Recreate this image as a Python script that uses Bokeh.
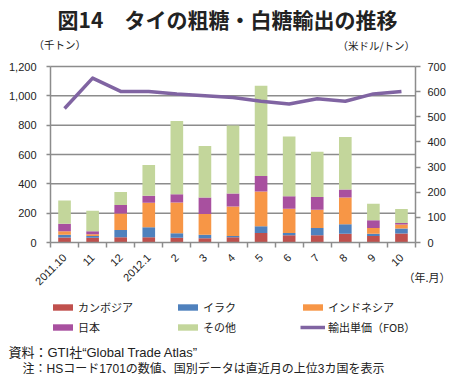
import math
from bokeh.plotting import figure
from bokeh.models import (Range1d, LinearAxis, FixedTicker, Label, Legend, LegendItem,
                          ColumnDataSource, NumeralTickFormatter)
from bokeh.embed import file_html
from bokeh.resources import INLINE

# ---- data ----
months = ["2011.10", "11", "12", "2012.1", "2", "3", "4", "5", "6", "7", "8", "9", "10"]
cambodia = [34, 32, 36, 36, 32, 29, 36, 65, 50, 50, 59, 45, 61]
iraq = [18, 13, 50, 68, 31, 23, 9, 45, 15, 49, 65, 14, 34]
indonesia = [25, 11, 112, 167, 210, 142, 201, 237, 165, 124, 183, 40, 27]
japan = [51, 21, 57, 47, 56, 113, 88, 106, 86, 88, 54, 52, 11]
other = [158, 139, 90, 210, 499, 351, 464, 616, 406, 307, 358, 113, 95]
fob_price = [533, 654, 601, 601, 591, 584, 577, 562, 551, 572, 562, 591, 601]
left_ticks = [0, 200, 400, 600, 800, 1000, 1200]
right_ticks = [0, 100, 200, 300, 400, 500, 600, 700]
series_names = ["カンボジア", "イラク", "インドネシア", "日本", "その他"]
line_name = "輸出単価（FOB）"

# ---- layout (pixels) ----
W, H = 453, 382
PL, PR, PT, PB = 50, 415, 66, 242   # plot area edges
JP = "Noto Sans CJK JP"
MIX = "Liberation Sans, Noto Sans CJK JP"
NUM = "Liberation Sans"
GRID = "#8c8c8c"
TXT = "#222222"

n = len(months)
xs = list(range(n))
ux = n / (PR - PL)                      # x units per px
x_start = -0.5 - PL * ux
x_end = n - 0.5 + (W - PR) * ux
ly_max, ry_max = left_ticks[-1], right_ticks[-1]
uy = ly_max / (PB - PT)
ry = ry_max / (PB - PT)

src = ColumnDataSource(dict(x=xs, cambodia=cambodia, iraq=iraq, indonesia=indonesia,
                            japan=japan, other=other, price=fob_price))

p = figure(width=W, height=H, output_backend="svg", toolbar_location=None,
           x_range=Range1d(x_start, x_end),
           y_range=Range1d(-(H - PB) * uy, ly_max + PT * uy),
           min_border=0)
p.extra_y_ranges = {"price": Range1d(-(H - PB) * ry, ry_max + PT * ry)}
p.outline_line_color = None
p.xgrid.visible = False
p.ygrid.visible = False

# gridlines from the tick list
p.segment(x0=-0.5, x1=n - 0.5, y0=left_ticks[1:], y1=left_ticks[1:],
          line_color=GRID, line_width=1.5)

colors = ["#C0504D", "#4F81BD", "#F79646", "#A8509F", "#C3D69B"]
keys = ["cambodia", "iraq", "indonesia", "japan", "other"]
bars = p.vbar_stack(keys, x="x", width=0.45, color=colors, line_color=None, source=src)

ln = p.line("x", "price", source=src, y_range_name="price", line_color="#8064A2",
            line_width=3.5, line_join="round")


def style_axis(a):
    a.axis_line_color = GRID
    a.axis_line_width = 1.5
    a.major_tick_line_color = GRID
    a.major_tick_line_width = 1.5
    a.major_tick_in = 0
    a.minor_tick_line_color = None
    a.major_label_text_font = NUM
    a.major_label_text_font_size = "11px"
    a.major_label_text_color = TXT


# left axis
ya = p.yaxis[0]
style_axis(ya)
ya.fixed_location = -0.5
ya.bounds = (0, ly_max)
ya.ticker = FixedTicker(ticks=left_ticks)
ya.formatter = NumeralTickFormatter(format="0,0")
ya.major_tick_out = 4
ya.major_label_standoff = 10

# right axis
ra = LinearAxis(y_range_name="price", ticker=FixedTicker(ticks=right_ticks))
style_axis(ra)
ra.fixed_location = n - 0.5
ra.bounds = (0, ry_max)
ra.major_tick_out = 5
ra.major_label_standoff = 7
p.add_layout(ra, "right")

# x axis
xa = p.xaxis[0]
style_axis(xa)
xa.fixed_location = 0
xa.bounds = (-0.5, n - 0.5)
xa.ticker = FixedTicker(ticks=xs, minor_ticks=[i - 0.5 for i in range(n + 1)])
xa.major_label_overrides = {i: m for i, m in enumerate(months)}
xa.major_tick_line_color = None
xa.minor_tick_out = 5
xa.minor_tick_in = 0
xa.minor_tick_line_color = GRID
xa.minor_tick_line_width = 1.5
xa.major_label_orientation = math.pi / 4
xa.major_label_standoff = 7

# legend
items = [LegendItem(label=nm, renderers=[r]) for nm, r in zip(series_names, bars)]
items.insert(5, LegendItem(label=line_name, renderers=[ln]))
legend = Legend(items=items, orientation="horizontal", ncols=3, location=(PL, H - 337),
                padding=0, margin=0, spacing=0, border_line_color=None,
                background_fill_alpha=0, glyph_width=25, glyph_height=8,
                label_width=97, label_height=20, label_standoff=3,
                label_text_font=JP, label_text_font_size="11px",
                label_text_color=TXT)
p.add_layout(legend, "center")


# texts (canvas pixels, from top-left)
def add_text(x, y, t, size, align="left", bold=False, font=JP):
    p.add_layout(Label(x=x, y=y, x_units="canvas", y_units="canvas", text=t,
                       text_font=font, text_font_size=size, text_align=align,
                       text_baseline="middle", text_color=TXT,
                       text_font_style="bold" if bold else "normal"))


add_text(227, 18, "図14　タイの粗糖・白糖輸出の推移", "21px", "center", True)
add_text(33, 44, "（千トン）", "10.5px")
add_text(337, 45, "（米ドル/トン）", "10.5px")
add_text(403, 276, "（年.月）", "11px")
add_text(8, 352, "資料：GTI社“Global Trade Atlas”", "13px", font=MIX)
add_text(22, 368, "注：HSコード1701の数値、国別データは直近月の上位3カ国を表示", "12px", font=MIX)

open("out.html", "w").write(file_html(p, INLINE))
